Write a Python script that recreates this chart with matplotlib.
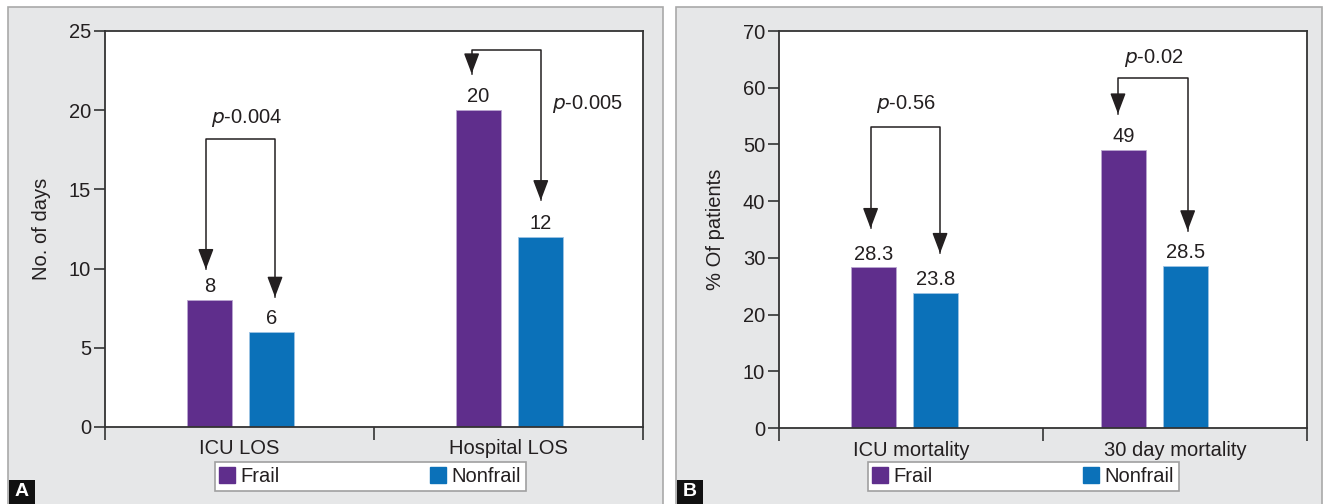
import matplotlib
matplotlib.use('Agg')
import matplotlib.pyplot as plt
from matplotlib.patches import Rectangle
from matplotlib.lines import Line2D

plt.rcParams['font.family'] = ['Liberation Sans Narrow', 'Liberation Sans', 'DejaVu Sans']

# data
groups = ['Frail', 'Nonfrail']
colors = ['#5f2e8c', '#0b71b9']

cats_a = ['ICU LOS', 'Hospital LOS']
frail_a = [8, 20]
nonfrail_a = [6, 12]
labels_a = [['8', '20'], ['6', '12']]
pvals_a = ['0.004', '0.005']

cats_b = ['ICU mortality', '30 day mortality']
frail_b = [28.3, 49]
nonfrail_b = [23.8, 28.5]
labels_b = [['28.3', '49'], ['23.8', '28.5']]
pvals_b = ['0.56', '0.02']

W, H = 1327, 504
fig = plt.figure(figsize=(W / 100, H / 100), dpi=100)
fig.patch.set_facecolor('white')


def px(x0, y0, x1, y1):
    # pixel box (top-left origin) -> figure fraction rect
    return [x0 / W, 1 - y1 / H, (x1 - x0) / W, (y1 - y0) / H]


# panel backgrounds
for x0, x1 in [(8, 663), (676, 1322)]:
    fig.patches.append(Rectangle((x0 / W, -0.01), (x1 - x0) / W, 1 - 7 / H + 0.01,
                                 transform=fig.transFigure, facecolor='#e6e7e8',
                                 edgecolor='#a9a9a9', linewidth=1.2, zorder=-5))

TXT = '#231f20'


def panel(rect, cats, fr, nf, labels, ymax, ystep, ylabel, shifts, bw, offs,
          arrows, pvals, ptext, label_pad):
    ax = fig.add_axes(rect)
    ax.set_zorder(2)
    ax.set_facecolor('white')
    for i in range(len(cats)):
        xs = [i + shifts[i] + offs[0], i + shifts[i] + offs[1]]
        ax.bar(xs[0], fr[i], width=bw, color=colors[0], edgecolor='#b9a6d0', linewidth=0.6, zorder=2)
        ax.bar(xs[1], nf[i], width=bw, color=colors[1], edgecolor='#9cc3e4', linewidth=0.6, zorder=2)
        ax.text(xs[0], fr[i] + label_pad, labels[0][i], ha='center', va='bottom', fontsize=14.5, color=TXT)
        ax.text(xs[1], nf[i] + label_pad, labels[1][i], ha='center', va='bottom', fontsize=14.5, color=TXT)
        # p-value bracket with arrows
        xl, xr, top, tl, tr = arrows[i]
        xl += i
        xr += i
        ax.plot([xl, xl, xr, xr], [tl, top, top, tr], color=TXT, lw=1.1, zorder=3)
        for xx, yt in [(xl, tl), (xr, tr)]:
            ax.annotate('', xy=(xx, yt), xytext=(xx, yt + 0.04 * ymax),
                        arrowprops=dict(arrowstyle='-|>,head_width=0.34,head_length=0.9',
                                        color=TXT, lw=1.1, mutation_scale=14,
                                        shrinkA=0, shrinkB=0), zorder=3)
        tx, ty, ha = ptext[i]
        ax.text(i + tx, ty, r'$\mathit{p}$' + '-' + pvals[i], ha=ha, va='center',
                fontsize=14.5, color=TXT)
    ax.set_xlim(-0.5, 1.5)
    ax.set_ylim(0, ymax)
    ax.set_yticks(range(0, ymax + 1, ystep))
    ax.set_xticks([0, 1])
    ax.set_xticklabels(cats)
    ax.set_xticks([-0.5, 0.5, 1.5], minor=True)
    ax.tick_params(axis='x', which='major', length=0, pad=9, labelsize=14.5, colors=TXT)
    ax.tick_params(axis='x', which='minor', length=9, width=1.2, direction='out', color='#333333')
    ax.tick_params(axis='y', length=8, width=1.2, pad=2, labelsize=14.5, colors='#333333', labelcolor=TXT)
    for s in ax.spines.values():
        s.set_color('#333333')
        s.set_linewidth(1.3)
    ax.set_ylabel(ylabel, fontsize=14.5, color=TXT, labelpad=13)
    return ax


panel(px(105, 31, 643, 427), cats_a, frail_a, nonfrail_a, labels_a, 25, 5, 'No. of days',
      [0, 0], 0.167, (-0.112, 0.118),
      [(-0.125, 0.132, 18.2, 9.95, 8.2), (-0.137, 0.12, 23.8, 22.3, 14.3)],
      pvals_a, [(0.025, 19.5, 'center'), (0.16, 20.4, 'left')], 0.25)

panel(px(779, 31, 1307, 428), cats_b, frail_b, nonfrail_b, labels_b, 70, 10, '% Of patients',
      [-0.025, -0.078], 0.17, (-0.117, 0.118),
      [(-0.153, 0.11, 53.0, 35.2, 30.8), (-0.216, 0.048, 61.7, 55.4, 34.8)],
      pvals_b, [(-0.02, 57.2, 'center'), (-0.08, 65.3, 'center')], 0.7)

# legends
handles = [Line2D([], [], marker='s', linestyle='none', markersize=11,
                  markerfacecolor=c, markeredgecolor=c) for c in colors]
for x0, x1 in [(215, 526), (868, 1179)]:
    r = px(x0, 463, x1, 491)
    leg = fig.legend(handles, groups, loc='lower left', bbox_to_anchor=(r[0], r[1], r[2], r[3]),
                     mode='expand', ncol=2, frameon=True, fancybox=False, fontsize=14.5,
                     handlelength=0.7, handletextpad=0.3, borderpad=0.25, borderaxespad=0,
                     edgecolor='#a0a0a0', facecolor='white', framealpha=1)
    leg.get_frame().set_linewidth(1.2)
    for t in leg.get_texts():
        t.set_color(TXT)

# panel letters
for x0, letter in [(9, 'A'), (677, 'B')]:
    fig.patches.append(Rectangle((x0 / W, 0), 26 / W, 24 / H, transform=fig.transFigure,
                                 facecolor='#111111', edgecolor='none', zorder=5))
    fig.text((x0 + 13) / W, 12 / H, letter, color='white', fontsize=14, fontweight='bold',
             ha='center', va='center', family='Liberation Sans', zorder=6)

fig.savefig('out.png', dpi=100)
